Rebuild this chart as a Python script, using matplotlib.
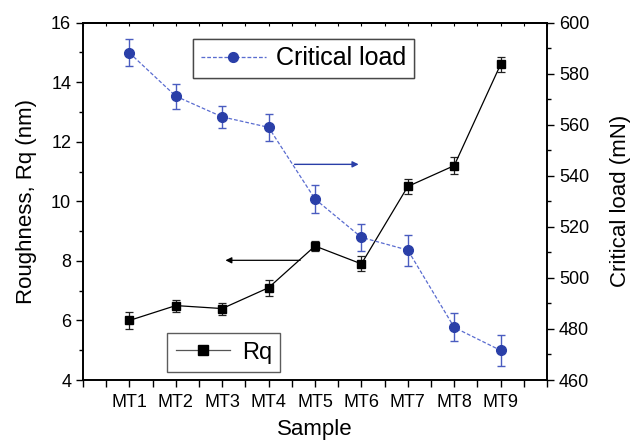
import matplotlib
matplotlib.use("Agg")
import matplotlib.pyplot as plt
from matplotlib.ticker import MultipleLocator
from matplotlib.lines import Line2D

plt.rcParams['font.family'] = ['Liberation Sans', 'DejaVu Sans']

samples = ["MT1", "MT2", "MT3", "MT4", "MT5", "MT6", "MT7", "MT8", "MT9"]
rq = [6.0, 6.5, 6.4, 7.1, 8.5, 7.9, 10.5, 11.2, 14.6]
rq_err = [0.27, 0.2, 0.2, 0.27, 0.18, 0.25, 0.25, 0.28, 0.26]
crit_load = [588.2, 571.2, 563.1, 559.0, 530.9, 515.9, 510.9, 480.6, 471.6]
crit_err = [5.3, 4.9, 4.2, 5.4, 5.5, 5.4, 6.1, 5.5, 6.1]

x = list(range(1, len(samples) + 1))

fig = plt.figure(figsize=(6.30, 4.44), dpi=100)
ax = fig.add_axes([0.1317, 0.1441, 0.8683 - 0.1317, 0.9489 - 0.1441])
ax2 = ax.twinx()

blue = '#2a3fa8'
eblue = '#4a5cc0'
lblue = '#5a6cd0'
dash = (0, (3, 1.6))

ax.errorbar(x, rq, yerr=rq_err, color='black', marker='s', markersize=6,
            lw=0.9, elinewidth=0.9, capsize=3, capthick=0.9,
            ecolor='#222222', zorder=3)
ax2.errorbar(x, crit_load, yerr=crit_err, color=lblue, marker='o', markersize=7,
             markerfacecolor=blue, markeredgecolor=blue,
             lw=0.9, ls=dash, elinewidth=1.0, capsize=3, capthick=1.0,
             ecolor=eblue, zorder=3)

ax.set_xlim(0, 10)
ax.set_ylim(4, 16)
ax2.set_ylim(460, 600)
ax.set_xticks(x)
ax.set_xticklabels(samples)
ax.xaxis.set_minor_locator(MultipleLocator(0.5))
ax.yaxis.set_major_locator(MultipleLocator(2))
ax.yaxis.set_minor_locator(MultipleLocator(1))
ax2.yaxis.set_major_locator(MultipleLocator(20))
ax2.yaxis.set_minor_locator(MultipleLocator(10))

for a in (ax, ax2):
    for s in a.spines.values():
        s.set_linewidth(1.2)
ax.tick_params(axis='x', which='major', direction='out', length=5, width=1, labelsize=13, pad=5)
ax.tick_params(axis='x', which='minor', direction='out', length=5, width=1)
ax.tick_params(axis='y', which='major', direction='out', length=5, width=1, labelsize=13)
ax.tick_params(axis='y', which='minor', direction='out', length=3, width=1)
ax2.tick_params(axis='y', which='major', direction='out', length=5, width=1, labelsize=13)
ax2.tick_params(axis='y', which='minor', direction='out', length=3, width=1)

top = ax.secondary_xaxis('top')
top.set_xticks([v * 0.5 for v in range(0, 21)])
top.tick_params(axis='x', which='major', direction='in', length=2.5, width=0.8, labeltop=False)
top.xaxis.set_minor_locator(plt.NullLocator())
top.spines['top'].set_linewidth(1.2)

ax.set_xlabel('Sample', fontsize=16, labelpad=6)
ax.set_ylabel('Roughness, Rq (nm)', fontsize=16, labelpad=10)
ax2.set_ylabel('Critical load (mN)', fontsize=16, labelpad=15)

h2 = Line2D([], [], color=lblue, ls=dash, lw=0.9, marker='o', markersize=7,
            markerfacecolor=blue, markeredgecolor=blue)
h1 = Line2D([], [], color='#555555', lw=0.9, marker='s', markersize=7,
            markerfacecolor='black', markeredgecolor='black')

leg1 = ax2.legend([h2], ['Critical load'], loc='upper left', bbox_to_anchor=(0.238, 0.955),
                  fontsize=18, frameon=True, fancybox=False, edgecolor='#333333',
                  handlelength=2.6, borderpad=0.3, handletextpad=0.4, borderaxespad=0)
leg1.get_frame().set_linewidth(1.0)
leg2 = ax.legend([h1], ['Rq'], loc='lower left', bbox_to_anchor=(0.182, 0.023),
                 fontsize=17, frameon=True, fancybox=False, edgecolor='#333333',
                 handlelength=2.3, borderpad=0.35, handletextpad=0.5, borderaxespad=0)
leg2.get_frame().set_linewidth(1.0)
ax2.add_artist(leg1)

ax2.annotate('', xy=(6.0, 544.5), xytext=(4.5, 544.5),
             arrowprops=dict(arrowstyle='-|>', color=blue, lw=1.0, mutation_scale=9))
ax.annotate('', xy=(3.01, 8.02), xytext=(4.74, 8.02),
            arrowprops=dict(arrowstyle='-|>', color='black', lw=0.9, mutation_scale=9))

fig.savefig('out.png', dpi=100)
